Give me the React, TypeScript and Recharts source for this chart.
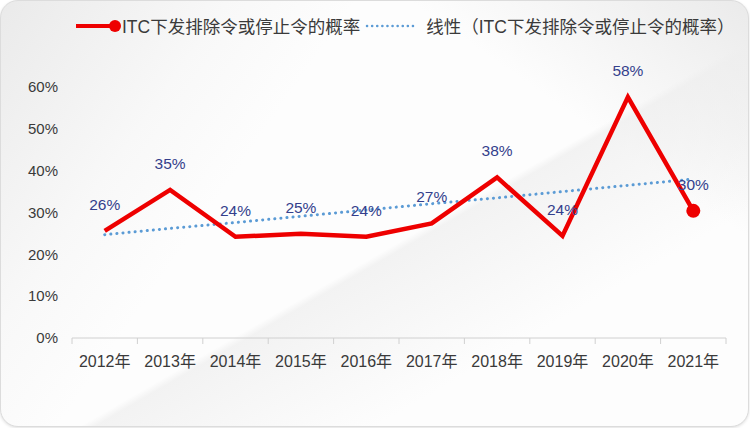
import React from 'react';
import { LineChart, Line, XAxis, YAxis, LabelList } from 'recharts';

// 年份
const years: string[] = ['2012年', '2013年', '2014年', '2015年', '2016年', '2017年', '2018年', '2019年', '2020年', '2021年'];
// ITC下发排除令或停止令的概率 (%)
const rates: number[] = [25.6, 35.4, 24.2, 24.9, 24.2, 27.4, 38.4, 24.4, 57.6, 30.4];
// 线性趋势 (%)
const trend: number[] = [24.7, 26.2, 27.6, 29.1, 30.6, 32.1, 33.5, 35.0, 36.5, 38.0];
const yTicks: number[] = [0, 10, 20, 30, 40, 50, 60];

const seriesName = 'ITC下发排除令或停止令的概率';
const trendName = '线性（ITC下发排除令或停止令的概率）';

const data = years.map((year, i) => ({ year, rate: rates[i], trend: trend[i] }));

const W = 750;
const H = 428;
const MARGIN = { top: 87, right: 24, bottom: 60, left: 0 };
const Y_WIDTH = 72;
const BAND = (W - MARGIN.left - MARGIN.right - Y_WIDTH) / years.length;

const FONT = '"Liberation Sans", Arial, "Noto Sans CJK SC", sans-serif';
const TEXT = '#3a3a3a';
const LABEL = '#343f8c';

// X轴刻度: 刻度线在类别之间
const XTick = (props: any) => {
    const { x, y, payload, index } = props;
    const half = BAND / 2;
    return (
        <g>
            <line x1={x - half} y1={y} x2={x - half} y2={y + 6} stroke="#d0d0d0" />
            {index === years.length - 1 && (
                <line x1={x + half} y1={y} x2={x + half} y2={y + 6} stroke="#d0d0d0" />
            )}
            <text x={x} y={y + 29} textAnchor="middle" fill={TEXT} fontSize={16} fontFamily={FONT}>
                {payload.value}
            </text>
        </g>
    );
};

// 只在最后一个点画圆点
const LastDot = (props: any) => {
    const { cx, cy, index } = props;
    if (index !== years.length - 1) return <g key={index} />;
    return <circle key={index} cx={cx} cy={cy} r={7} fill="#ee0000" />;
};

const App: React.FC = () => {
    return (
        <div style={{ position: 'absolute', left: 0, top: 0, width: W, height: H, background: '#fff' }}>
            <div
                style={{
                    position: 'absolute', left: 0, top: 0, width: W - 3, height: H - 3,
                    borderRadius: 18, border: '1px solid #dcdcdc', boxShadow: '0 1px 3px rgba(0,0,0,0.12)',
                    overflow: 'hidden',
                    background:
                        'linear-gradient(125deg, rgba(232,232,232,0.9) 0%, rgba(245,245,245,0.6) 22%, rgba(255,255,255,0) 34%),' +
                        'linear-gradient(150deg, rgba(255,255,255,0) 55%, rgba(238,238,238,0.7) 56%, rgba(250,250,250,0) 75%),' +
                        'linear-gradient(215deg, rgba(230,230,230,0.8) 0%, rgba(255,255,255,0) 25%),' +
                        '#fdfdfd',
                }}
            />
            {/* 图例 */}
            <div style={{ position: 'absolute', left: 74, top: 13, display: 'flex', alignItems: 'center', fontFamily: FONT, fontSize: 17.5, color: TEXT, whiteSpace: 'nowrap' }}>
                <svg width={48} height={20}>
                    <line x1={2} y1={10} x2={40} y2={10} stroke="#ee0000" strokeWidth={4} />
                    <circle cx={41} cy={10} r={6} fill="#ee0000" />
                </svg>
                <span>{seriesName}</span>
                <svg width={62} height={20} style={{ marginLeft: 4 }}>
                    <line x1={3} y1={10} x2={52} y2={10} stroke="#5b9bd5" strokeWidth={2.5} strokeDasharray="0.1 5" strokeLinecap="round" />
                </svg>
                <span>{trendName}</span>
            </div>
            <LineChart width={W} height={H} data={data} margin={MARGIN} style={{ position: 'absolute', left: 0, top: 0 }}>
                <XAxis
                    dataKey="year"
                    axisLine={{ stroke: '#d0d0d0' }}
                    tickLine={false}
                    tickSize={0}
                    tickMargin={0}
                    interval={0}
                    height={30}
                    padding={{ left: BAND / 2, right: BAND / 2 }}
                    tick={<XTick />}
                />
                <YAxis
                    width={Y_WIDTH}
                    domain={[0, 60]}
                    ticks={yTicks}
                    axisLine={false}
                    tickLine={false}
                    tickSize={0}
                    tickMargin={14}
                    tickFormatter={(v: number) => `${v}%`}
                    tick={{ fill: TEXT, fontSize: 15, fontFamily: FONT }}
                />
                {/* 线性趋势 */}
                <Line
                    type="linear"
                    dataKey="trend"
                    stroke="#5b9bd5"
                    strokeWidth={3}
                    strokeDasharray="0.1 6"
                    strokeLinecap="round"
                    dot={false}
                    activeDot={false}
                    isAnimationActive={false}
                />
                {/* 概率 */}
                <Line
                    type="linear"
                    dataKey="rate"
                    stroke="#ee0000"
                    strokeWidth={4.5}
                    dot={<LastDot />}
                    activeDot={false}
                    isAnimationActive={false}
                >
                    <LabelList
                        dataKey="rate"
                        position="top"
                        offset={21}
                        formatter={(v: any) => `${Math.round(Number(v))}%`}
                        fill={LABEL}
                        fontSize={15.5}
                        fontFamily={FONT}
                    />
                </Line>
            </LineChart>
        </div>
    );
};

export default App;
